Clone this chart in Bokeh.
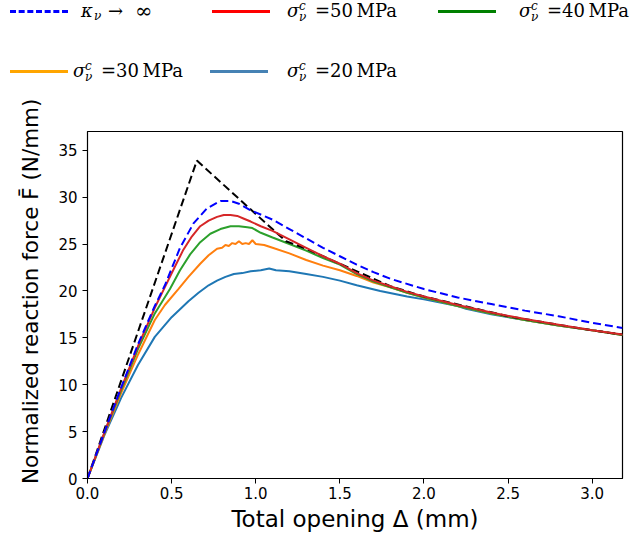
from bokeh.plotting import figure
from bokeh.models import Range1d, FixedTicker, Div
from bokeh.layouts import column
from bokeh.embed import file_html
from bokeh.resources import INLINE

# ---------------- data ----------------
x_ticks = [0.0, 0.5, 1.0, 1.5, 2.0, 2.5, 3.0]
x_tick_labels = ["0.0", "0.5", "1.0", "1.5", "2.0", "2.5", "3.0"]
y_ticks = [0, 5, 10, 15, 20, 25, 30, 35]
y_tick_labels = ["0", "5", "10", "15", "20", "25", "30", "35"]

# black dashed reference curve (not in legend)
ref_x = [0.0, 0.65, 1.0, 1.18, 1.3, 1.5, 1.8, 2.0, 2.5, 3.0, 3.18]
ref_f = [0.0, 33.9, 28.2, 25.3, 24.5, 22.9, 20.5, 19.4, 17.3, 15.8, 15.35]

# kappa_nu -> infinity (blue dashed)
kinf_x = [0.0, 0.1, 0.2, 0.3, 0.4, 0.46, 0.55, 0.63, 0.71, 0.79, 0.85, 0.9, 0.97,
          1.1, 1.2, 1.3, 1.4, 1.5, 1.6, 1.7, 1.8, 2.0, 2.2, 2.4, 2.6, 2.8, 3.0, 3.18]
kinf_f = [0.0, 4.9, 9.7, 14.3, 18.4, 20.6, 24.6, 27.2, 28.8, 29.6, 29.6, 29.3, 28.6,
          27.6, 26.6, 25.6, 24.6, 23.7, 22.8, 22.0, 21.3, 20.2, 19.3, 18.6, 17.9, 17.3, 16.6, 16.05]

# sigma_c = 50 MPa
s50_x = [0.0, 0.1, 0.2, 0.3, 0.4, 0.46, 0.52, 0.57, 0.62, 0.67, 0.72, 0.77, 0.81, 0.85,
         0.89, 0.93, 0.97, 1.03, 1.1, 1.2, 1.3, 1.4, 1.5, 1.6, 1.7, 1.8, 1.9, 2.0,
         2.2, 2.4, 2.6, 2.8, 3.0, 3.18]
s50_f = [0.0, 4.9, 9.6, 14.1, 18.2, 20.4, 22.6, 24.4, 25.8, 26.9, 27.5, 27.9, 28.1, 28.1,
         28.0, 27.7, 27.4, 26.9, 26.4, 25.5, 24.6, 23.7, 22.9, 21.9, 21.1, 20.5, 19.9, 19.4,
         18.5, 17.7, 17.0, 16.4, 15.8, 15.35]

# sigma_c = 40 MPa
s40_x = [0.0, 0.1, 0.2, 0.3, 0.4, 0.49, 0.55, 0.61, 0.67, 0.73, 0.79, 0.85, 0.9, 0.95,
         0.98, 1.03, 1.1, 1.2, 1.3, 1.4, 1.5, 1.6, 1.7, 1.8, 1.9, 2.0, 2.2, 2.4, 2.6,
         2.8, 3.0, 3.18]
s40_f = [0.0, 4.8, 9.4, 13.8, 17.6, 20.2, 22.2, 23.9, 25.2, 26.1, 26.6, 26.9, 26.9, 26.8,
         26.7, 26.2, 25.7, 25.0, 24.3, 23.5, 22.8, 21.8, 21.0, 20.4, 19.8, 19.3, 18.4, 17.6, 16.9,
         16.3, 15.8, 15.3]

# sigma_c = 30 MPa
s30_x = [0.0, 0.1, 0.2, 0.3, 0.4, 0.46, 0.54, 0.6, 0.67, 0.72, 0.77, 0.8, 0.82, 0.84, 0.86,
         0.88, 0.9, 0.92, 0.94, 0.96, 0.98, 1.0, 1.05, 1.1, 1.2, 1.3, 1.4, 1.5, 1.6, 1.7,
         1.8, 1.9, 2.0, 2.2, 2.4, 2.6, 2.8, 3.0, 3.18]
s30_f = [0.0, 4.7, 9.1, 13.2, 16.9, 18.5, 20.2, 21.5, 22.9, 23.8, 24.5, 24.6, 24.9, 24.8, 25.1,
         25.0, 25.3, 25.0, 25.1, 25.0, 25.4, 25.0, 24.9, 24.6, 24.0, 23.3, 22.7, 22.2, 21.6, 20.9,
         20.4, 19.8, 19.3, 18.4, 17.6, 16.9, 16.3, 15.8, 15.3]

# sigma_c = 20 MPa
s20_x = [0.0, 0.1, 0.2, 0.3, 0.4, 0.5, 0.6, 0.66, 0.72, 0.77, 0.82, 0.87, 0.92, 0.97, 1.03,
         1.08, 1.12, 1.2, 1.3, 1.4, 1.5, 1.6, 1.74, 1.9, 2.0, 2.2, 2.25, 2.4, 2.6, 2.8, 3.0, 3.18]
s20_f = [0.0, 4.6, 8.6, 12.1, 15.1, 17.2, 18.9, 19.8, 20.6, 21.1, 21.5, 21.8, 21.9, 22.1, 22.2,
         22.4, 22.2, 22.1, 21.8, 21.5, 21.1, 20.6, 20.0, 19.4, 19.1, 18.4, 18.1, 17.5, 16.9, 16.3, 15.8, 15.3]

legend_values = ["50", "40", "30", "20"]
legend_colors = ["#ff0000", "#008000", "#ffa500", "#4682b4"]

# ---------------- legend (HTML strip above the plot) ----------------
SERIF = "'DejaVu Serif', serif"
LEG_H = 95

def swatch(x, y, color, dashed=False):
    style = "dashed" if dashed else "solid"
    return (f'<div style="position:absolute;left:{x}px;top:{y - 1}px;width:58px;height:0;'
            f'border-top:3px {style} {color};"></div>')

def txt(x, top, s, size, italic=False, lh=None):
    st = "italic" if italic else "normal"
    lh = size if lh is None else lh
    return (f'<span style="position:absolute;left:{x}px;top:{top}px;font-family:{SERIF};'
            f'font-size:{size}px;line-height:{lh}px;font-style:{st};white-space:nowrap;color:black;">{s}</span>')

def sigma_item(xl, xt, y, color, val):
    top = y - 9
    return (swatch(xl, y, color)
            + txt(xt, top, "σ", 18, True)
            + txt(xt + 12, top - 1, "c<br>ν", 12, True, lh=11)
            + txt(xt + 28, top, "=" + val + "&#8201;MPa", 18))

html = f'<div style="position:relative;width:630px;height:{LEG_H}px;">'
html += swatch(10, 11, "#0000ff", dashed=True)
html += txt(81, 2, "κ", 18, True) + txt(94, 11, "ν", 12, True, lh=10)
html += txt(108, 2, "→", 18) + txt(135, 1, "∞", 21)
html += sigma_item(212, 287, 11, legend_colors[0], legend_values[0])
html += sigma_item(438, 519, 11, legend_colors[1], legend_values[1])
html += sigma_item(10, 73, 71, legend_colors[2], legend_values[2])
html += sigma_item(210, 287, 71, legend_colors[3], legend_values[3])
html += '</div>'

leg = Div(text=html, width=630, height=LEG_H, margin=(0, 0, 0, 0))

# ---------------- main plot ----------------
p = figure(width=630, height=543 - LEG_H, x_range=Range1d(0, 3.18), y_range=Range1d(0, 37),
           toolbar_location=None, output_backend="svg",
           min_border_left=87, min_border_right=8, min_border_top=131 - LEG_H, min_border_bottom=65)
p.grid.visible = False
p.outline_line_color = "black"
p.outline_line_width = 1.2
p.outline_line_alpha = 1.0

p.xaxis.ticker = FixedTicker(ticks=x_ticks)
p.xaxis.major_label_overrides = {t: l for t, l in zip(x_ticks, x_tick_labels)}
p.yaxis.ticker = FixedTicker(ticks=y_ticks)
p.yaxis.major_label_overrides = {t: l for t, l in zip(y_ticks, y_tick_labels)}

p.xaxis.axis_label = "Total opening Δ (mm)"
p.yaxis.axis_label = "\u00a0\u00a0\u00a0\u00a0Normalized reaction force F\u0304 (N/mm)"
for ax in (p.xaxis, p.yaxis):
    ax.axis_label_text_font = "DejaVu Sans"
    ax.axis_label_text_font_style = "normal"
    ax.axis_label_text_color = "black"
    ax.major_label_text_font = "DejaVu Sans"
    ax.major_label_text_font_size = "15px"
    ax.major_label_text_color = "black"
    ax.axis_line_color = "black"
    ax.major_tick_line_color = "black"
    ax.major_tick_out = 5
    ax.major_tick_in = 0
    ax.minor_tick_line_color = None
p.xaxis.axis_label_text_font_size = "23px"
p.yaxis.axis_label_text_font_size = "21.5px"
p.xaxis.major_label_standoff = 3
p.yaxis.major_label_standoff = 5
p.xaxis.axis_label_standoff = 4
p.yaxis.axis_label_standoff = 12

lw = 2
p.line(s20_x, s20_f, line_color="#1f77b4", line_width=lw)
p.line(s30_x, s30_f, line_color="#ff7f0e", line_width=lw)
p.line(s40_x, s40_f, line_color="#2ca02c", line_width=lw)
p.line(ref_x, ref_f, line_color="black", line_width=lw, line_dash="8 4")
p.line(s50_x, s50_f, line_color="#d62728", line_width=lw)
p.line(kinf_x, kinf_f, line_color="#0000ff", line_width=lw, line_dash="8 4")

layout = column(leg, p, spacing=0)
open("out.html", "w").write(file_html(layout, INLINE))
